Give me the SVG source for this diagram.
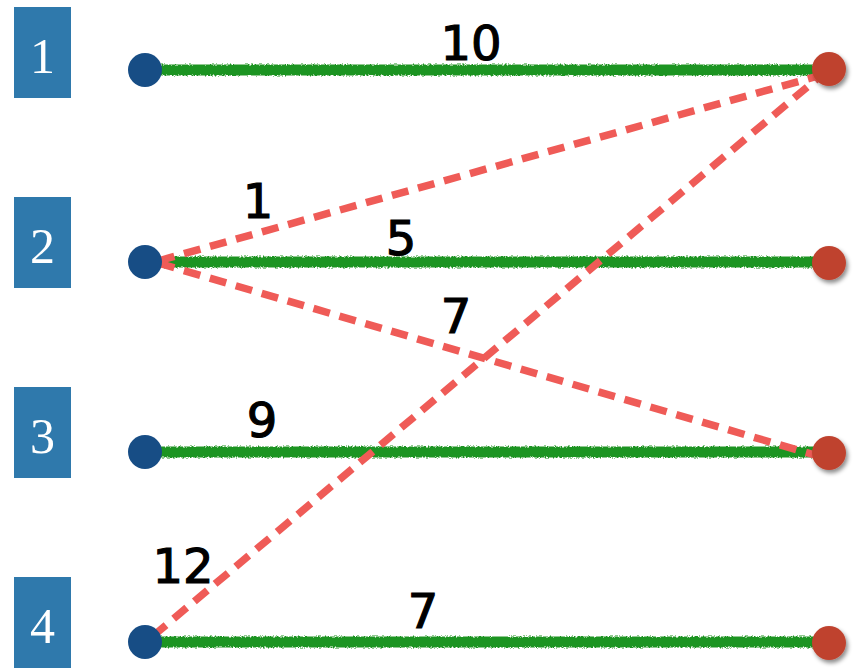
<svg xmlns="http://www.w3.org/2000/svg" width="853" height="668" viewBox="0 0 853 668">
<defs>
<filter id="rough" filterUnits="userSpaceOnUse" x="0" y="0" width="853" height="668">
<feTurbulence type="fractalNoise" baseFrequency="0.6" numOctaves="2" seed="3" result="n"/>
<feDisplacementMap in="SourceGraphic" in2="n" scale="4" xChannelSelector="R" yChannelSelector="G"/>
</filter>
<filter id="shadow" x="-50%" y="-50%" width="200%" height="200%">
<feDropShadow dx="2" dy="3" stdDeviation="2" flood-color="#000" flood-opacity="0.45"/>
</filter>
</defs>
<style>
.box{fill:#2f79ac}
.num{font-family:"Liberation Serif",serif;font-size:50px;fill:#fff;text-anchor:middle}
.src{fill:#174d85}
.dst{fill:#bf432f;filter:url(#shadow)}
.match{stroke:#1e9420;stroke-width:11;fill:none;filter:url(#rough)}
.alt{stroke:#ef5b57;stroke-width:7.5;stroke-dasharray:17 10;fill:none}
.w{font-family:"DejaVu Sans",sans-serif;font-size:48px;fill:#000;stroke:#000;stroke-width:1.2;text-anchor:middle}
</style>
<g id="row1"><rect class="box" x="14" y="7" width="57" height="91"/><text class="num" x="42.5" y="73">1</text></g>
<g id="row2"><rect class="box" x="14" y="197" width="57" height="91"/><text class="num" x="42.5" y="263">2</text></g>
<g id="row3"><rect class="box" x="14" y="387" width="57" height="91"/><text class="num" x="42.5" y="453">3</text></g>
<g id="row4"><rect class="box" x="14" y="577" width="57" height="91"/><text class="num" x="42.5" y="643">4</text></g>
<g id="connectors">
<line class="match" x1="160" y1="70" x2="815" y2="70"/>
<line class="match" x1="160" y1="262" x2="815" y2="262"/>
<line class="match" x1="160" y1="452" x2="815" y2="452"/>
<line class="match" x1="160" y1="642" x2="815" y2="642"/>
<line class="alt" x1="158" y1="261" x2="818" y2="76"/>
<line class="alt" x1="158" y1="263" x2="818" y2="456"/>
<line class="alt" x1="153" y1="636" x2="818" y2="78"/>
</g>
<g id="labels">
<text class="w" x="471" y="60">10</text>
<text class="w" x="258" y="218">1</text>
<text class="w" x="401" y="255">5</text>
<text class="w" x="456" y="333">7</text>
<text class="w" x="262" y="437">9</text>
<text class="w" x="183" y="583">12</text>
<text class="w" x="423" y="628">7</text>
</g>
<g id="l1"><circle class="src" cx="145" cy="70" r="17"/></g>
<g id="l2"><circle class="src" cx="145" cy="262" r="17"/></g>
<g id="l3"><circle class="src" cx="145" cy="452" r="17"/></g>
<g id="l4"><circle class="src" cx="145" cy="642" r="17"/></g>
<g id="r1"><circle class="dst" cx="829" cy="69" r="17"/></g>
<g id="r2"><circle class="dst" cx="829" cy="263" r="17"/></g>
<g id="r3"><circle class="dst" cx="829" cy="453" r="17"/></g>
<g id="r4"><circle class="dst" cx="829" cy="643" r="17"/></g>
</svg>
